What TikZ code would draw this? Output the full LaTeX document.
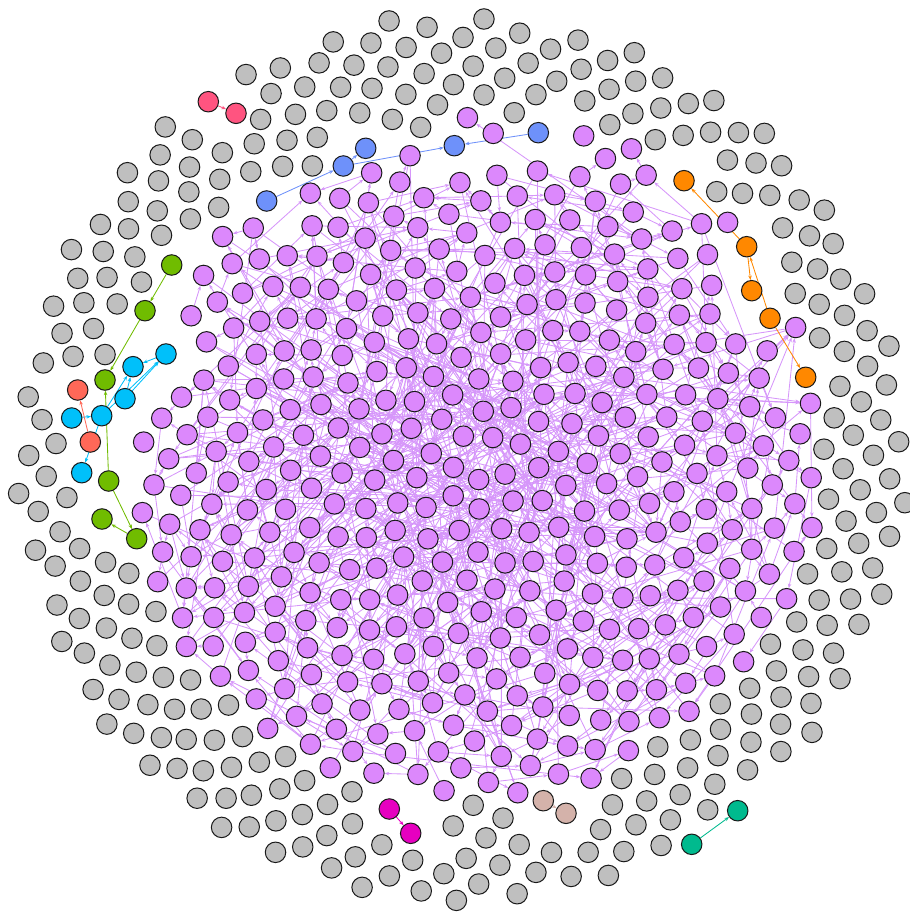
\documentclass[tikz,border=0pt]{standalone}
\usetikzlibrary{arrows.meta,backgrounds}
\definecolor{vpurple}{RGB}{220,136,252}
\definecolor{vgray}{RGB}{191,191,191}
\definecolor{epurple}{RGB}{214,150,250}
\definecolor{cpink}{RGB}{255,84,128}
\definecolor{cblue}{RGB}{110,145,250}
\definecolor{corange}{RGB}{255,136,0}
\definecolor{cgreen}{RGB}{112,188,0}
\definecolor{ccyan}{RGB}{0,192,250}
\definecolor{csalmon}{RGB}{255,104,88}
\definecolor{cmagenta}{RGB}{230,0,192}
\definecolor{ctan}{RGB}{212,178,170}
\definecolor{cteal}{RGB}{0,186,142}
\tikzset{
  vert/.style={circle,draw=black!90,line width=1pt,minimum size=20.5pt,inner sep=0pt},
  pv/.style={vert,fill=vpurple},
  gv/.style={vert,fill=vgray},
  link/.style={line width=0.85pt,-{Stealth[length=4.5pt,width=3.5pt]}},
  plink/.style={link,draw=epurple},
}
\def\colpts{208.3/101.7,236/113.3,266.7/201,343.3/166,365.7/148.3,454.3/145.7,538.3/132.7,684/180.7,746.7/246.7,751.7/290.7,770/318.3,805.7/377.3,171.7/265,145/310.7,105/380,108.7/481,102/519,136.7/538.7,166/354,133/366.7,125/398.7,101.7/415.7,71.7/418,81.7/472.7,77.7/390,90.3/442,389.3/809,410.7/833.3,543.3/800.7,566/813.3,737.7/810.7,691.7/844.3}
\newcommand\tryedge[3]{%
  \ifnum#1=#2\relax\else
  \ifcsname myvc#1\endcsname
  \ifcsname myvc#2\endcsname
    \ifnum\csname myvc#1\endcsname=1
    \ifnum\csname myvc#2\endcsname=1
      \edef\myXa{\csname myvx#1\endcsname}\edef\myYa{\csname myvy#1\endcsname}%
      \edef\myXb{\csname myvx#2\endcsname}\edef\myYb{\csname myvy#2\endcsname}%
      \pgfmathtruncatemacro\myOk{veclen((\myXa-\myXb)/100,(\myYa-\myYb)/100)<#3}%
      \ifnum\myOk=1 \draw[plink] (v#1) -- (v#2);\fi
    \fi\fi
  \fi\fi\fi}
\begin{document}
\begin{tikzpicture}[x=1pt,y=-1pt]
\useasboundingbox (0,0) rectangle (909,917);
\pgfmathsetseed{2024}
\xdef\gang{0}
% sunflower layout: sparser inside (purple), denser outside (gray)
\foreach \vi in {1,...,721}{
  \pgfmathsetmacro\newang{mod(\gang+137.50776,360)}
  \xdef\gang{\newang}
  \ifnum\vi<440
    \pgfmathsetmacro\rr{16.8*sqrt(\vi-0.5)}
  \else
    \pgfmathsetmacro\rr{100*sqrt(12.39+0.02624*(\vi-439.5))}
  \fi
  \pgfmathsetmacro\px{462+\rr*cos(\gang)+1.5*rand}
  \pgfmathsetmacro\py{458+\rr*sin(\gang)+1.5*rand}
  \gdef\hit{0}
  \ifdim\rr pt>240pt
    \foreach \cx/\cy in \colpts{
      \pgfmathtruncatemacro\hh{(abs(\px-\cx)<24)&&(abs(\py-\cy)<24)}
      \ifnum\hh=1 \gdef\hit{1}\fi
    }
  \fi
  \ifnum\hit=0
    \pgfmathsetmacro\tht{atan2(\py-448,\px-470)}
    \pgfmathsetmacro\rlim{3.52-0.35*pow(max(0,cos(\tht+118)),4)}
    \pgfmathtruncatemacro\isp{veclen((\px-470)/100,(\py-448)/100)<=\rlim}
    \ifnum\isp=1
      \node[pv] (v\vi) at (\px,\py) {};
      \expandafter\xdef\csname myvc\vi\endcsname{1}
    \else
      \node[gv] (v\vi) at (\px,\py) {};
      \expandafter\xdef\csname myvc\vi\endcsname{2}
    \fi
    \expandafter\xdef\csname myvx\vi\endcsname{\px}
    \expandafter\xdef\csname myvy\vi\endcsname{\py}
  \fi
}
% coloured small components
\node[vert,fill=cpink] (pk1) at (208.3,101.7) {};
\node[vert,fill=cpink] (pk2) at (236,113.3) {};
\node[vert,fill=cblue] (bl1) at (266.7,201) {};
\node[vert,fill=cblue] (bl2) at (343.3,166) {};
\node[vert,fill=cblue] (bl3) at (365.7,148.3) {};
\node[vert,fill=cblue] (bl4) at (454.3,145.7) {};
\node[vert,fill=cblue] (bl5) at (538.3,132.7) {};
\node[vert,fill=corange] (or1) at (684,180.7) {};
\node[vert,fill=corange] (or2) at (746.7,246.7) {};
\node[vert,fill=corange] (or3) at (751.7,290.7) {};
\node[vert,fill=corange] (or4) at (770,318.3) {};
\node[vert,fill=corange] (or5) at (805.7,377.3) {};
\node[vert,fill=cgreen] (gr1) at (171.7,265) {};
\node[vert,fill=cgreen] (gr2) at (145,310.7) {};
\node[vert,fill=cgreen] (gr3) at (105,380) {};
\node[vert,fill=cgreen] (gr4) at (108.7,481) {};
\node[vert,fill=cgreen] (gr5) at (102,519) {};
\node[vert,fill=cgreen] (gr6) at (136.7,538.7) {};
\node[vert,fill=ccyan] (cy1) at (166,354) {};
\node[vert,fill=ccyan] (cy2) at (133,366.7) {};
\node[vert,fill=ccyan] (cy3) at (125,398.7) {};
\node[vert,fill=ccyan] (cy4) at (101.7,415.7) {};
\node[vert,fill=ccyan] (cy5) at (71.7,418) {};
\node[vert,fill=ccyan] (cy6) at (81.7,472.7) {};
\node[vert,fill=csalmon] (sa1) at (77.7,390) {};
\node[vert,fill=csalmon] (sa2) at (90.3,442) {};
\node[vert,fill=cmagenta] (mg1) at (389.3,809) {};
\node[vert,fill=cmagenta] (mg2) at (410.7,833.3) {};
\node[vert,fill=ctan] (tn1) at (543.3,800.7) {};
\node[vert,fill=ctan] (tn2) at (566,813.3) {};
\node[vert,fill=cteal] (tl1) at (737.7,810.7) {};
\node[vert,fill=cteal] (tl2) at (691.7,844.3) {};
\begin{pgfonlayer}{background}
  % purple edges
  \foreach \vi in {1,...,721}{
    \pgfmathtruncatemacro\mySel{random(0,4)}
    \ifcase\mySel \def\myOff{8}\or\def\myOff{13}\or\def\myOff{21}\or\def\myOff{34}\else\def\myOff{55}\fi
    \pgfmathtruncatemacro\myJ{\vi+\myOff}
    \tryedge{\vi}{\myJ}{1.6}
    \foreach \myT in {1,...,4}{
      \pgfmathtruncatemacro\myJ{random(1,500)}
      \tryedge{\vi}{\myJ}{2.6}
    }
    \ifnum\vi<70
      \foreach \myT in {1,...,5}{
        \pgfmathtruncatemacro\myJ{random(1,500)}
        \tryedge{\myJ}{\vi}{3.5}
      }
    \fi
  }
  % coloured edges
  \draw[link,draw=cpink] (pk1) -- (pk2);
  \draw[link,draw=cblue] (bl1) -- (bl2);
  \draw[link,draw=cblue] (bl2) -- (bl3);
  \draw[link,draw=cblue] (bl2) -- (bl4);
  \draw[link,draw=cblue] (bl5) -- (bl4);
  \draw[link,draw=corange] (or2) -- (or1);
  \draw[link,draw=corange] (or2) -- (or3);
  \draw[link,draw=corange] (or4) -- (or2);
  \draw[link,draw=corange] (or4) -- (or5);
  \draw[link,draw=cgreen] (gr1) -- (gr2);
  \draw[link,draw=cgreen] (gr2) -- (gr3);
  \draw[link,draw=cgreen] (gr4) -- (gr3);
  \draw[link,draw=cgreen] (gr4) -- (gr6);
  \draw[link,draw=cgreen] (gr6) -- (gr5);
  \draw[link,draw=ccyan] (cy4) -- (cy2);
  \draw[link,draw=ccyan] (cy3) -- (cy2);
  \draw[link,draw=ccyan] (cy4) -- (cy1);
  \draw[link,draw=ccyan] (cy3) -- (cy1);
  \draw[link,draw=ccyan] (cy1) -- (cy2);
  \draw[link,draw=ccyan] (cy5) -- (cy4);
  \draw[link,draw=ccyan] (cy4) -- (cy6);
  \draw[link,draw=csalmon] (sa2) -- (sa1);
  \draw[link,draw=cmagenta] (mg1) -- (mg2);
  \draw[link,draw=ctan] (tn1) -- (tn2);
  \draw[link,draw=cteal] (tl2) -- (tl1);
\end{pgfonlayer}
\end{tikzpicture}
\end{document}
